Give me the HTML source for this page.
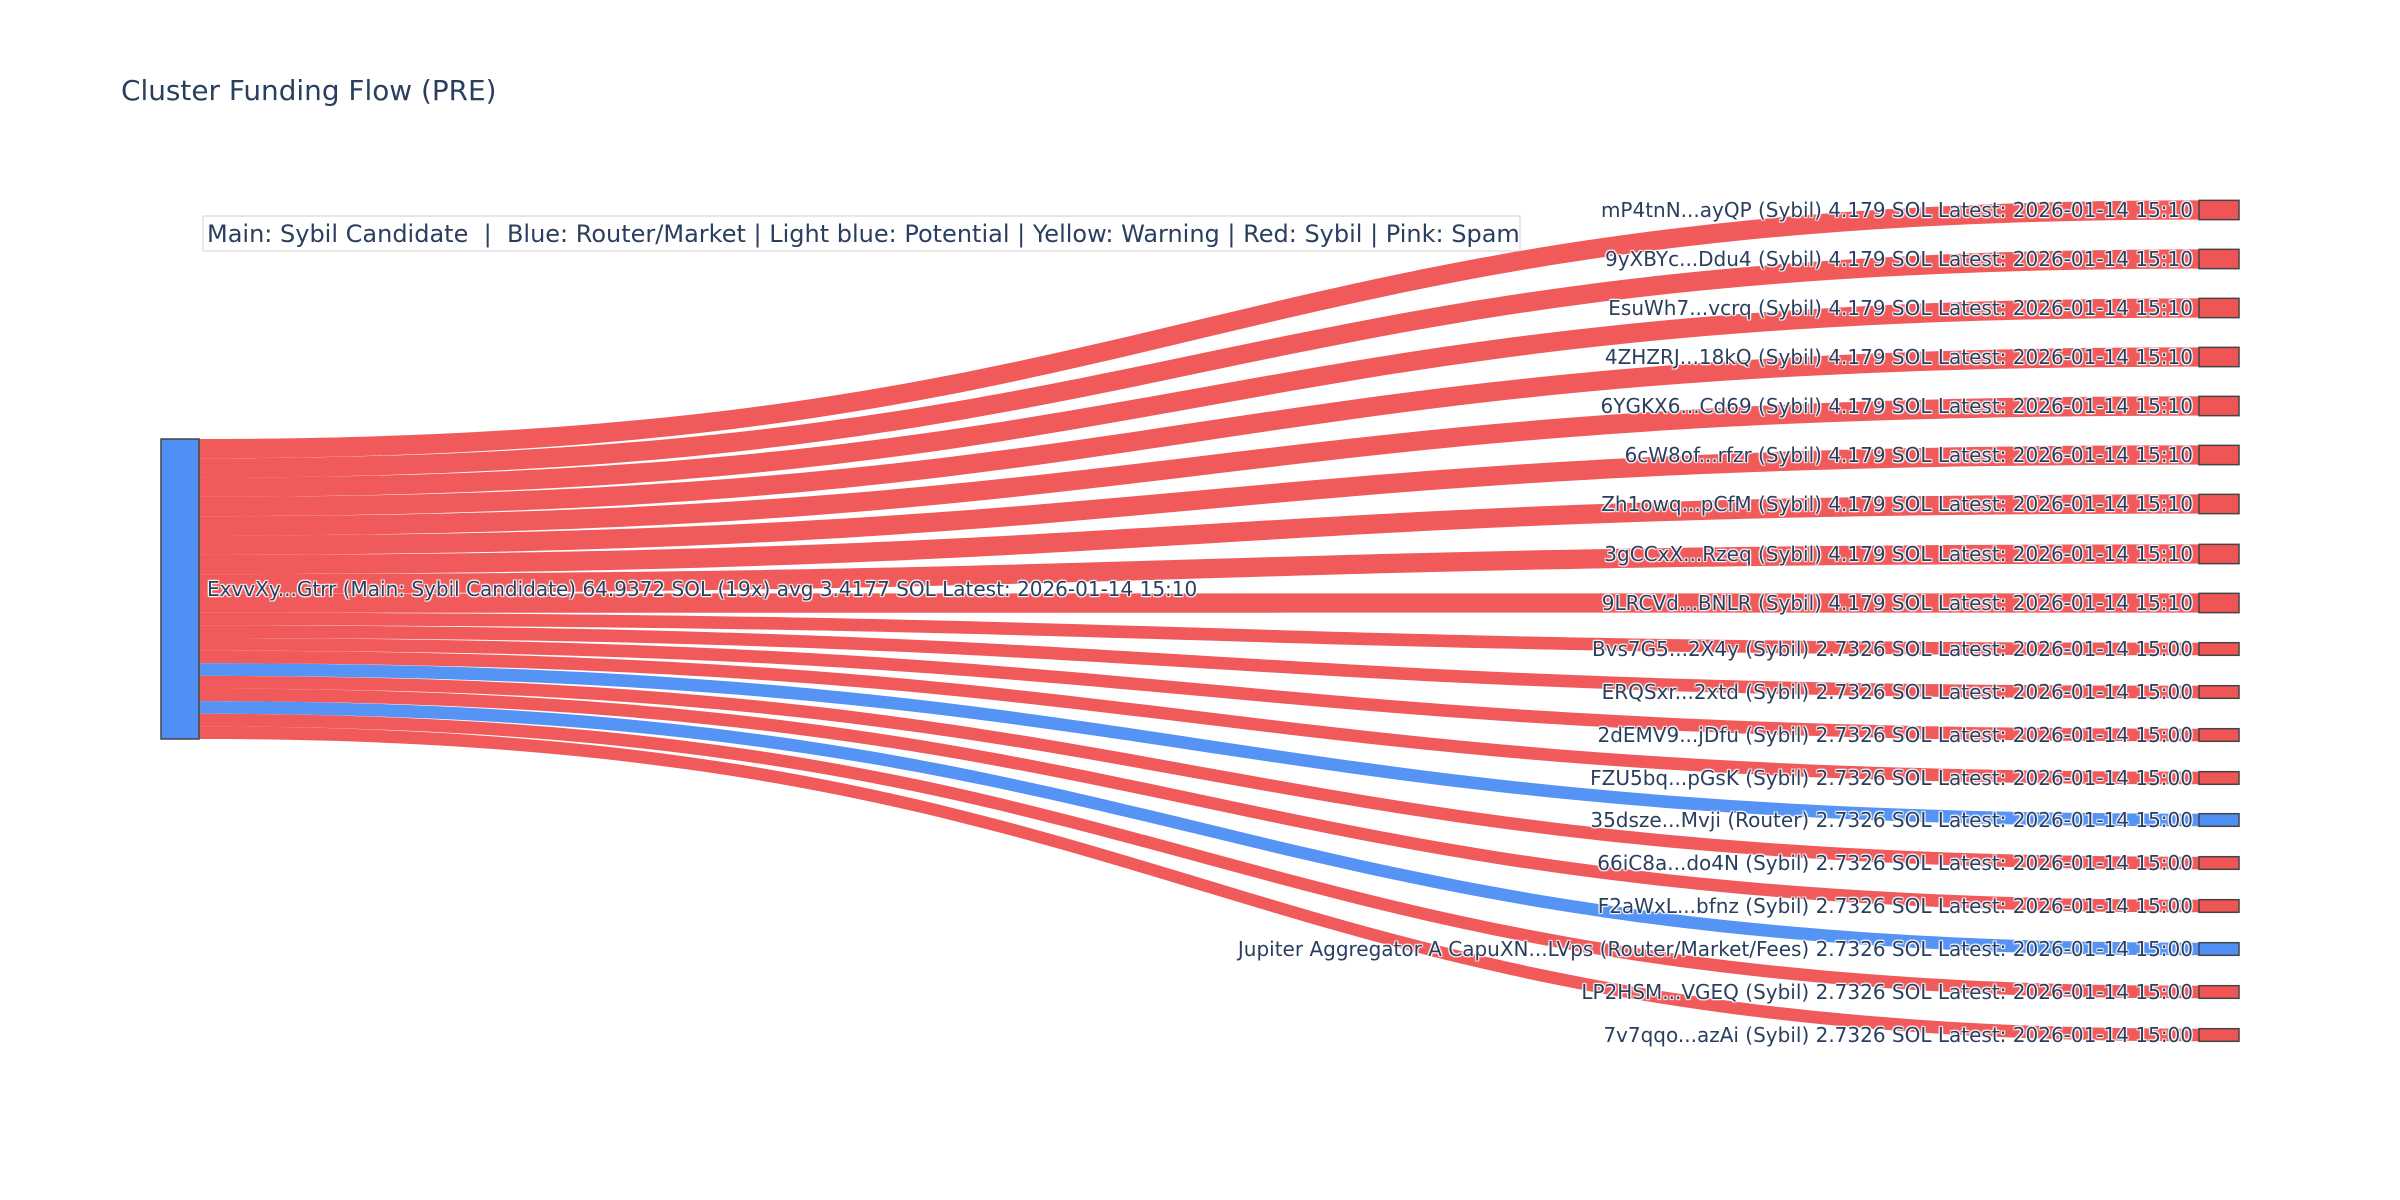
<!DOCTYPE html>
<html><head><meta charset="utf-8"><style>
html,body{margin:0;padding:0;background:#fff;}
svg{display:block;}
text{font-family:"DejaVu Sans","Liberation Sans",sans-serif;fill:#2a3f5f;}
.lbl{font-size:20px;text-shadow:1px 1px 1px #fff,-1px -1px 1px #fff,1px -1px 1px #fff,-1px 1px 1px #fff;}
</style></head><body>
<svg id="s" width="2400" height="1200" xmlns="http://www.w3.org/2000/svg">
<rect width="2400" height="1200" fill="#fff"/>
<text x="121" y="100" style="font-size:27.9px">Cluster Funding Flow (PRE)</text>
<g id="links"></g>
<g id="nodes"></g>
<g id="labels"></g>
<rect x="203" y="216" width="1317" height="35" fill="#fff" stroke="#d0d0d0" stroke-width="1"/>
<text x="207" y="242" style="font-size:24px" xml:space="preserve">Main: Sybil Candidate  |  Blue: Router/Market | Light blue: Potential | Yellow: Warning | Red: Sybil | Pink: Spam</text>
</svg>
<script>
var R="#ef5555",B="#5090f5";
var T=[
["mP4tnN...ayQP (Sybil) 4.179 SOL Latest: 2026-01-14 15:10",210,1,R],
["9yXBYc...Ddu4 (Sybil) 4.179 SOL Latest: 2026-01-14 15:10",259,1,R],
["EsuWh7...vcrq (Sybil) 4.179 SOL Latest: 2026-01-14 15:10",308,1,R],
["4ZHZRJ...18kQ (Sybil) 4.179 SOL Latest: 2026-01-14 15:10",357,1,R],
["6YGKX6...Cd69 (Sybil) 4.179 SOL Latest: 2026-01-14 15:10",406,1,R],
["6cW8of...rfzr (Sybil) 4.179 SOL Latest: 2026-01-14 15:10",455,1,R],
["Zh1owq...pCfM (Sybil) 4.179 SOL Latest: 2026-01-14 15:10",504,1,R],
["3gCCxX...Rzeq (Sybil) 4.179 SOL Latest: 2026-01-14 15:10",554,1,R],
["9LRCVd...BNLR (Sybil) 4.179 SOL Latest: 2026-01-14 15:10",603,1,R],
["Bvs7G5...2X4y (Sybil) 2.7326 SOL Latest: 2026-01-14 15:00",649,0,R],
["ERQSxr...2xtd (Sybil) 2.7326 SOL Latest: 2026-01-14 15:00",692,0,R],
["2dEMV9...jDfu (Sybil) 2.7326 SOL Latest: 2026-01-14 15:00",735,0,R],
["FZU5bq...pGsK (Sybil) 2.7326 SOL Latest: 2026-01-14 15:00",778,0,R],
["35dsze...Mvji (Router) 2.7326 SOL Latest: 2026-01-14 15:00",820,0,B],
["66iC8a...do4N (Sybil) 2.7326 SOL Latest: 2026-01-14 15:00",863,0,R],
["F2aWxL...bfnz (Sybil) 2.7326 SOL Latest: 2026-01-14 15:00",906,0,R],
["Jupiter Aggregator A CapuXN...LVps (Router/Market/Fees) 2.7326 SOL Latest: 2026-01-14 15:00",949,0,B],
["LP2HSM...VGEQ (Sybil) 2.7326 SOL Latest: 2026-01-14 15:00",992,0,R],
["7v7qqo...azAi (Sybil) 2.7326 SOL Latest: 2026-01-14 15:00",1035,0,R]];
var NS="http://www.w3.org/2000/svg";
function el(p,t,a){var e=document.createElementNS(NS,t);for(var k in a)e.setAttribute(k,a[k]);document.getElementById(p).appendChild(e);return e;}
var x0=199,x1=2199,xm=(x0+x1)/2,sy=439,tot=64.9372,H=300;
T.forEach(function(t){
 var v=t[2]?4.179:2.7326,h=v/tot*H,y1=t[1]-h/2;
 el("links","path",{d:"M"+x0+","+sy+"C"+xm+","+sy+" "+xm+","+y1+" "+x1+","+y1+"L"+x1+","+(y1+h)+"C"+xm+","+(y1+h)+" "+xm+","+(sy+h)+" "+x0+","+(sy+h)+"Z",fill:t[3],"fill-opacity":"0.97"});
 el("nodes","rect",{x:2199,y:y1,width:40,height:h,fill:t[3],stroke:"#444","stroke-width":1.5});
 var tx=el("labels","text",{x:2193,y:t[1]+7,"text-anchor":"end","class":"lbl"});tx.textContent=t[0];
 sy+=h;
});
el("nodes","rect",{x:161,y:439,width:38,height:300,fill:B,stroke:"#444","stroke-width":1.5});
var s=el("labels","text",{x:207,y:596,"class":"lbl"});s.textContent="ExvvXy...Gtrr (Main: Sybil Candidate) 64.9372 SOL (19x) avg 3.4177 SOL Latest: 2026-01-14 15:10";
</script>
</body></html>
